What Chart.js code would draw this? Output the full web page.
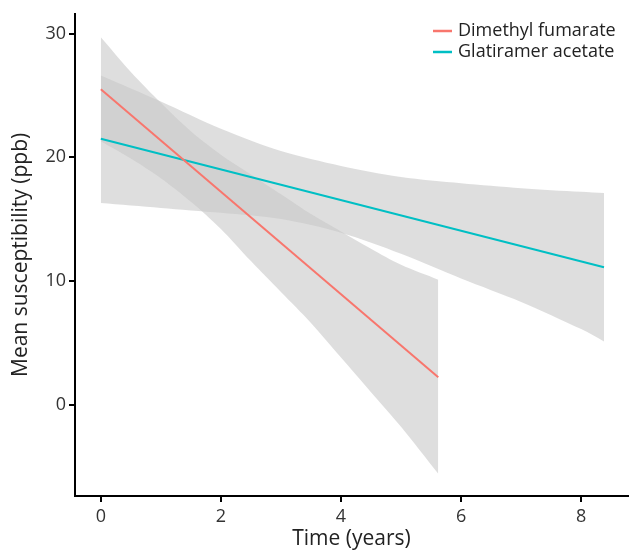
<!DOCTYPE html>
<html>
<head>
<meta charset="utf-8">
<script src="https://cdn.jsdelivr.net/npm/chart.js@4/dist/chart.umd.min.js"></script>
<style>
  html, body { margin: 0; padding: 0; background: #fff; }
  #wrap { width: 631px; height: 552px; }
</style>
</head>
<body>
<div id="wrap"><canvas id="chart" width="631" height="552"></canvas></div>
<script>
// series
const seriesNames = ['Dimethyl fumarate', 'Glatiramer acetate'];

// fitted lines (time in years, susceptibility in ppb)
const dmfLineX = [0, 5.62];
const dmfLineY = [25.5, 2.2];
const gaLineX = [0, 8.38];
const gaLineY = [21.5, 11.1];

// confidence bands
const dmfBandX = [0, 0.5, 1, 1.5, 2, 2.5, 3, 3.5, 4, 4.5, 5, 5.62];
const dmfUpper = [29.7, 26.9, 24.4, 22.1, 20.2, 18.6, 17.0, 15.4, 14.0, 12.6, 11.3, 10.1];
const dmfLower = [21.3, 19.9, 18.3, 16.4, 14.2, 11.6, 9.1, 6.6, 3.8, 1.0, -1.8, -5.6];

const gaBandX = [0, 1, 2, 3, 4, 5, 6, 7, 8, 8.38];
const gaUpper = [26.6, 24.5, 22.3, 20.5, 19.3, 18.4, 17.9, 17.5, 17.2, 17.1];
const gaLower = [16.3, 15.9, 15.5, 15.0, 13.9, 12.2, 10.2, 8.3, 6.1, 5.1];

// axis ticks
const xTicks = [0, 2, 4, 6, 8];
const yTicks = [0, 10, 20, 30];

const colors = ['#F8766D', '#00BFC4'];
const bandFill = 'rgba(200,200,200,0.6)';

function pts(xs, ys) {
    return xs.map((x, i) => ({ x: x, y: ys[i] }));
}

function lineSet(label, xs, ys, color) {
    return {
        label: label,
        data: pts(xs, ys),
        borderColor: color,
        borderWidth: 2,
        pointRadius: 0,
        fill: false,
        order: 0
    };
}

function bandSet(xs, ys, fillTarget) {
    return {
        data: pts(xs, ys),
        borderWidth: 0,
        borderColor: 'rgba(0,0,0,0)',
        backgroundColor: bandFill,
        pointRadius: 0,
        tension: 0.3,
        fill: fillTarget,
        order: 1
    };
}

// legend drawn inside the plot, top right
const insideLegend = {
    id: 'insideLegend',
    afterDraw(chart) {
        const ctx = chart.ctx;
        ctx.save();
        ctx.font = '18px "Open Sans"';
        ctx.textBaseline = 'middle';
        ctx.fillStyle = '#222';
        seriesNames.forEach((name, i) => {
            const y = 31 + i * 21;
            ctx.strokeStyle = colors[i];
            ctx.lineWidth = 2.5;
            ctx.beginPath();
            ctx.moveTo(433, y);
            ctx.lineTo(452, y);
            ctx.stroke();
            ctx.fillText(name, 458, y);
        });
        ctx.restore();
    }
};

const axisCommon = {
    type: 'linear',
    border: { display: true, color: '#000', width: 2 },
    grid: { drawOnChartArea: false, drawTicks: true, tickLength: 6, color: '#000', lineWidth: 2 },
    ticks: { color: '#333', font: { family: 'Open Sans', size: 18 } }
};

new Chart(document.getElementById('chart').getContext('2d'), {
    type: 'line',
    data: {
        datasets: [
            lineSet(seriesNames[0], dmfLineX, dmfLineY, colors[0]),
            lineSet(seriesNames[1], gaLineX, gaLineY, colors[1]),
            bandSet(dmfBandX, dmfLower, false),
            bandSet(dmfBandX, dmfUpper, 2),
            bandSet(gaBandX, gaLower, false),
            bandSet(gaBandX, gaUpper, 4)
        ]
    },
    options: {
        responsive: false,
        animation: false,
        layout: { padding: { left: 0, right: 3, top: 10, bottom: 0 } },
        plugins: { legend: { display: false }, tooltip: { enabled: false } },
        scales: {
            x: {
                ...axisCommon,
                min: -0.43,
                max: 8.78,
                afterBuildTicks: s => { s.ticks = xTicks.map(v => ({ value: v })); },
                afterFit: s => { s.height = 56; },
                ticks: { ...axisCommon.ticks, padding: 4 },
                title: { display: true, text: 'Time (years)', color: '#222',
                         font: { family: 'Open Sans', size: 21 }, padding: { top: 0, bottom: 0 } }
            },
            y: {
                ...axisCommon,
                min: -7.4,
                max: 31.6,
                afterBuildTicks: s => { s.ticks = yTicks.map(v => ({ value: v })); },
                afterFit: s => { s.width = 75; },
                ticks: { ...axisCommon.ticks, padding: 3 },
                title: { display: true, text: 'Mean susceptibility (ppb)', color: '#222',
                         font: { family: 'Open Sans', size: 21 }, padding: { top: 8, bottom: 0 } }
            }
        }
    },
    plugins: [insideLegend]
});
</script>
</body>
</html>
